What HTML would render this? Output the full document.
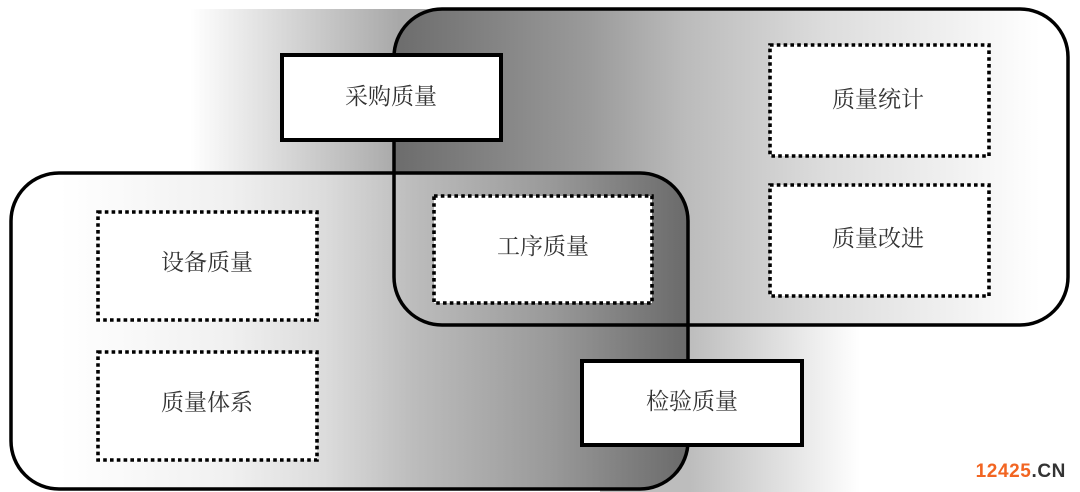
<!DOCTYPE html>
<html>
<head>
<meta charset="utf-8">
<style>
  html, body { margin:0; padding:0; background:#fff; }
  body { width:1080px; height:492px; overflow:hidden; }
  svg { display:block; }
  .lbl { font-family: "Noto Serif CJK SC", "Liberation Serif", "Noto Sans CJK SC", serif; font-size:23px; fill:#333; }
</style>
</head>
<body>
<svg width="1080" height="492" viewBox="0 0 1080 492" xmlns="http://www.w3.org/2000/svg">
  <defs>
    <linearGradient id="gA" gradientUnits="userSpaceOnUse" x1="190" y1="0" x2="400" y2="0">
      <stop offset="0" stop-color="#ffffff"/>
      <stop offset="1" stop-color="#a8a8a8"/>
    </linearGradient>
    <linearGradient id="gB" gradientUnits="userSpaceOnUse" x1="690" y1="0" x2="860" y2="0">
      <stop offset="0" stop-color="#bdbdbd"/>
      <stop offset="1" stop-color="#ffffff"/>
    </linearGradient>
    <linearGradient id="gTop" gradientUnits="userSpaceOnUse" x1="394" y1="0" x2="1040" y2="0">
      <stop offset="0" stop-color="#6c6c6c"/>
      <stop offset="0.3" stop-color="#9a9a9a"/>
      <stop offset="0.45" stop-color="#bbbbbb"/>
      <stop offset="0.67" stop-color="#dddddd"/>
      <stop offset="0.88" stop-color="#f2f2f2"/>
      <stop offset="1" stop-color="#ffffff"/>
    </linearGradient>
    <linearGradient id="gBot" gradientUnits="userSpaceOnUse" x1="11" y1="0" x2="688" y2="0">
      <stop offset="0" stop-color="#ffffff"/>
      <stop offset="0.072" stop-color="#ffffff"/>
      <stop offset="0.323" stop-color="#f0f0f0"/>
      <stop offset="0.462" stop-color="#dcdcdc"/>
      <stop offset="0.595" stop-color="#bcbcbc"/>
      <stop offset="0.799" stop-color="#999999"/>
      <stop offset="1" stop-color="#6a6a6a"/>
    </linearGradient>
  </defs>

  <!-- background gradient bands -->
  <rect x="180" y="9" width="280" height="166" fill="url(#gA)"/>
  <rect x="600" y="324" width="290" height="168" fill="url(#gB)"/>

  <!-- big rounded areas -->
  <rect x="394" y="9" width="674" height="316" rx="48" ry="48" fill="url(#gTop)"/>
  <rect x="11" y="173" width="677" height="316" rx="48" ry="48" fill="url(#gBot)"/>

  <!-- outlines -->
  <rect x="394" y="9" width="674" height="316" rx="48" ry="48" fill="none" stroke="#000" stroke-width="3.5"/>
  <rect x="11" y="173" width="677" height="316" rx="48" ry="48" fill="none" stroke="#000" stroke-width="3.5"/>

  <!-- dotted boxes -->
  <g fill="#fff" stroke="#000" stroke-width="3.6" stroke-dasharray="3.6 3.2">
    <rect x="770" y="45" width="219" height="111"/>
    <rect x="770" y="185" width="219" height="111"/>
    <rect x="434" y="196" width="218" height="107"/>
    <rect x="98" y="212" width="219" height="108"/>
    <rect x="98" y="352" width="219" height="108"/>
  </g>

  <!-- solid boxes -->
  <rect x="282" y="55" width="219" height="85" fill="#fff" stroke="#000" stroke-width="4"/>
  <rect x="582" y="361" width="220" height="84" fill="#fff" stroke="#000" stroke-width="4"/>

  <!-- labels -->
  <text class="lbl" x="391" y="104" text-anchor="middle">采购质量</text>
  <text class="lbl" x="878" y="107" text-anchor="middle">质量统计</text>
  <text class="lbl" x="878" y="246" text-anchor="middle">质量改进</text>
  <text class="lbl" x="543" y="254" text-anchor="middle">工序质量</text>
  <text class="lbl" x="207" y="270" text-anchor="middle">设备质量</text>
  <text class="lbl" x="207" y="410" text-anchor="middle">质量体系</text>
  <text class="lbl" x="692" y="409" text-anchor="middle">检验质量</text>

  <!-- watermark -->
  <text x="1066" y="477" text-anchor="end" font-family="Liberation Sans, Arial, sans-serif" font-weight="bold" font-size="19" letter-spacing="0.6"><tspan fill="#f26522">12425</tspan><tspan fill="#333">.CN</tspan></text>
</svg>
</body>
</html>
